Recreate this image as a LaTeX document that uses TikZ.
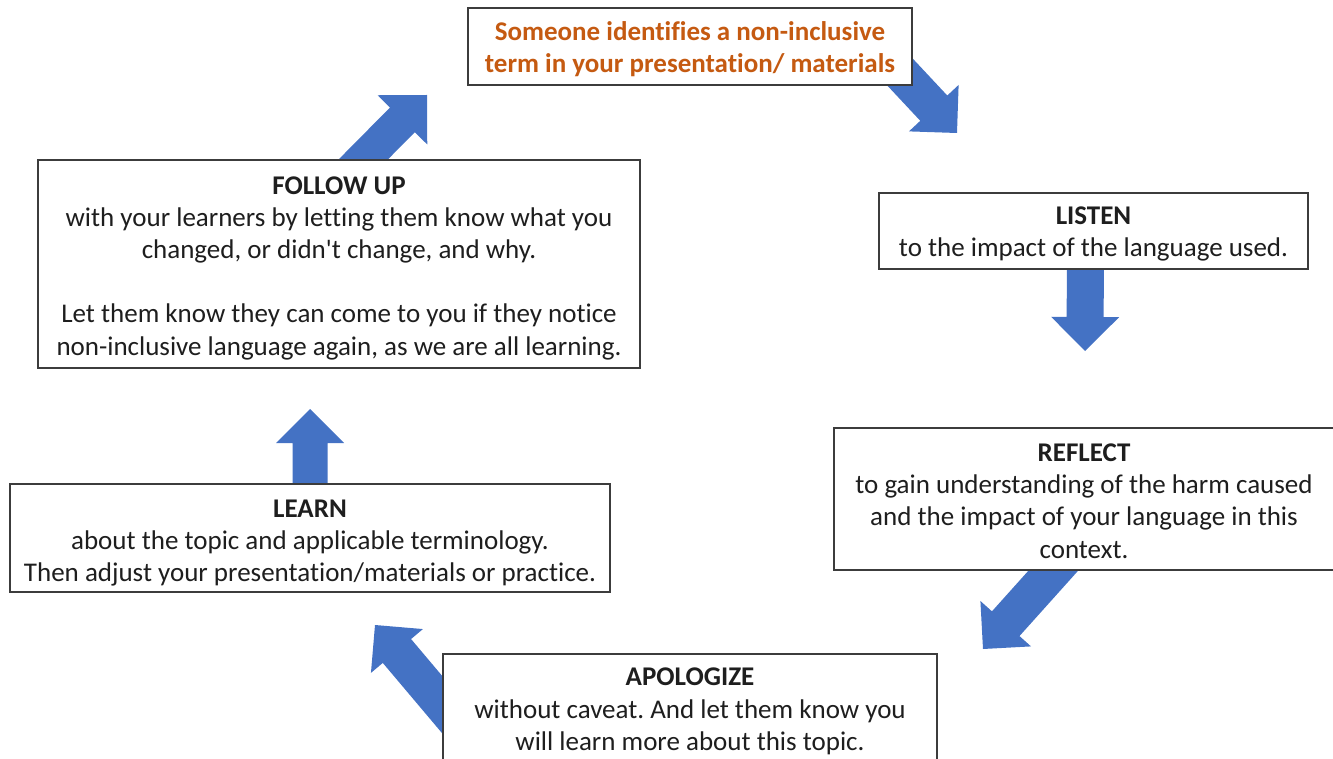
\documentclass[tikz,border=0pt]{standalone}
\usepackage{fontspec}
\setmainfont{Carlito}[Ligatures={TeXOff,CommonOff}]
\usetikzlibrary{calc,backgrounds}
\frenchspacing

\definecolor{flowblue}{RGB}{68,114,196}
\definecolor{alertorange}{RGB}{197,90,17}
\definecolor{inkgray}{RGB}{30,30,30}
\definecolor{framegray}{RGB}{60,60,60}

\tikzset{
  stepbox/.style={draw=framegray, line width=0.9pt, fill=white, inner sep=0pt},
  steptext/.style={inner sep=0pt, align=center, text=inkgray,
    font=\fontsize{13.5}{16.1}\selectfont},
}

% Block arrow: #1 tail, #2 tip, #3 half shaft width, #4 half head width, #5 head length
\newcommand\blockarrow[5]{%
  \coordinate (hb) at ($(#2)!#5!(#1)$);
  \fill[flowblue]
    ($(#1)!#3!90:(#2)$) -- ($(hb)!#3!90:(#2)$) -- ($(hb)!#4!90:(#2)$) --
    (#2) --
    ($(hb)!#4!-90:(#2)$) -- ($(hb)!#3!-90:(#2)$) -- ($(#1)!#3!-90:(#2)$) -- cycle;
}

\begin{document}
\begin{tikzpicture}[x=0.5pt,y=-0.5pt]
\useasboundingbox (0,0) rectangle (1333,759);

% frames of the cycle steps
\node[stepbox, minimum width=222pt, minimum height=38.5pt] (spot) at (690,46.5) {};
\node[stepbox, minimum width=214.5pt, minimum height=38pt] (listen) at (1093.5,231) {};
\node[stepbox, minimum width=250pt, minimum height=71pt] (reflect) at (1084,499) {};
\node[stepbox, minimum width=247pt, minimum height=54.5pt] (apologize) at (690,708.5) {};
\node[stepbox, minimum width=300pt, minimum height=54pt] (learn) at (310,538) {};
\node[stepbox, minimum width=301pt, minimum height=104pt] (follow) at (339,264) {};

% texts of the cycle steps
\node[steptext, text=alertorange, font=\fontsize{13.5}{16.1}\selectfont\bfseries]
  (spot-t) at ($(spot.center)+(0,3)$)
  {Someone identifies a non-inclusive\\term in your presentation/ materials};

\node[steptext] (listen-t) at ($(listen.center)+(0,3)$)
  {\bfseries LISTEN\\to the impact of the language used.};

\node[steptext] (reflect-t) at ($(reflect.center)+(0,2)$)
  {\bfseries REFLECT\\to gain understanding of the harm caused\\
   and the impact of your language in this\\context.};

\node[steptext] (apologize-t) at ($(apologize.center)+(0,3)$)
  {\bfseries APOLOGIZE\\without caveat. And let them know you\\
   will learn more about this topic.};

\node[steptext] (learn-t) at ($(learn.center)+(0,5)$)
  {\bfseries LEARN\\about the topic and applicable terminology.\\
   Then adjust your presentation/materials or practice.};

\node[steptext] (follow-t) at ($(follow.center)+(0,4)$)
  {\bfseries FOLLOW UP\\with your learners by letting them know what you\\
   changed, or didn't change, and why.\\[16.1pt]
   Let them know they can come to you if they notice\\
   non-inclusive language again, as we are all learning.};

% arrow ends
\coordinate (a1s) at ($(spot.south east)+(-28,-30)$);
\coordinate (a1t) at (957,133);
\coordinate (a2s) at ($(listen.south)+(-8,-30)$);
\coordinate (a2t) at (1085,351);
\coordinate (a3s) at ($(reflect.south)+(-4,-30)$);
\coordinate (a3t) at (983,649);
\coordinate (a4s) at ($(apologize.west)+(27,28)$);
\coordinate (a4t) at (375,625);
\coordinate (a5s) at ($(learn.north)+(0,36)$);
\coordinate (a5t) at (310,409);
\coordinate (a6s) at ($(follow.north)+(-15,40)$);
\coordinate (a6t) at (427,95);

\begin{pgfonlayer}{background}
  \blockarrow{a1s}{a1t}{9.25pt}{17pt}{17pt}
  \blockarrow{a2s}{a2t}{9.25pt}{17pt}{17pt}
  \blockarrow{a3s}{a3t}{9.25pt}{17pt}{17pt}
  \blockarrow{a4s}{a4t}{9.25pt}{17pt}{17pt}
  \blockarrow{a5s}{a5t}{8.75pt}{17pt}{17pt}
  \blockarrow{a6s}{a6t}{8.75pt}{17.5pt}{17.5pt}
\end{pgfonlayer}
\end{tikzpicture}
\end{document}
